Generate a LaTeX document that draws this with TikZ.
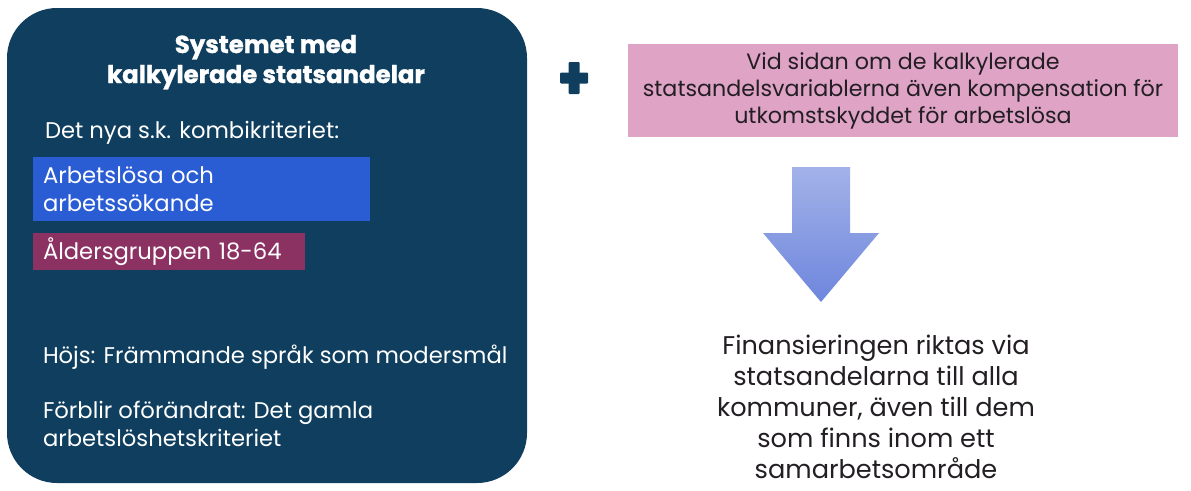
\documentclass[tikz,border=0pt]{standalone}
\usepackage{fontspec}
\setmainfont{Poppins}
\newfontfamily\titlefont{Poppins}[BoldFeatures={FakeBold=1.2}]
\usetikzlibrary{positioning}
\definecolor{mynavy}{RGB}{15,62,94}
\definecolor{myblue}{RGB}{42,92,212}
\definecolor{mymaroon}{RGB}{139,50,98}
\definecolor{mypink}{RGB}{222,163,197}
\definecolor{myarrowtop}{RGB}{163,178,232}
\definecolor{myarrowbot}{RGB}{110,134,221}
\definecolor{mytext}{RGB}{35,30,35}
\newcommand\txtsize{\fontsize{22.7}{28}\selectfont}

\begin{document}
\begin{tikzpicture}[x=1pt,y=-1pt,outer sep=0pt,
    navyb/.style={
      fill=mynavy,
      rounded corners=50pt,
      minimum width=520pt,
      minimum height=475pt},
    whitet/.style={
      text=white,
      font=\txtsize,
      inner sep=0pt,
      anchor=base west,
      align=left},
    colb/.style={
      text=white,
      font=\txtsize,
      inner xsep=10pt,
      inner ysep=0pt,
      anchor=north west,
      align=left},
    ]
    \useasboundingbox (0,0) rectangle (1191,490);
    \node[navyb] (Sys) at (267,245.5) {};
    \node[text=white,align=center,inner sep=0pt,anchor=base,font={\titlefont\bfseries\fontsize{24.4}{30}\selectfont}] (Tit) at (266,83) {Systemet med\\kalkylerade statsandelar};
    \node[whitet] (Kom) at (45,138) {Det nya s.k. kombikriteriet:};
    \node[colb,fill=myblue,minimum width=337pt,minimum height=64pt,text width=317pt] (Arb) at (33,157) {Arbetslösa och\\arbetssökande};
    \node[colb,fill=mymaroon,minimum width=272pt,minimum height=37pt,text width=252pt] (Ald) at (33,233) {Åldersgruppen 18-64};
    \node[whitet] (Hoj) at (43,363) {Höjs: Främmande språk som modersmål};
    \node[whitet] (For) at (43,446) {Förblir oförändrat: Det gamla\\arbetslöshetskriteriet};
    % plus
    \node[minimum width=28pt,minimum height=32pt,inner sep=0pt] (Plu) at (574,78) {};
    \fill[mynavy,rounded corners=1pt] ([yshift=-5.5pt]Plu.west) rectangle ([yshift=5.5pt]Plu.east);
    \fill[mynavy,rounded corners=1pt] ([xshift=-5.5pt]Plu.south) rectangle ([xshift=5.5pt]Plu.north);
    \node[fill=mypink,text=mytext,font={\fontsize{22.2}{27}\selectfont},align=center,minimum width=550pt,minimum height=93pt,inner sep=0pt] (Vid) at (903,90.5) {Vid sidan om de kalkylerade\\statsandelsvariablerna även kompensation för\\utkomstskyddet för arbetslösa};
    % block arrow
    \coordinate (Tip) at (821,302);
    \shade[top color=myarrowtop,bottom color=myarrowbot]
      (Tip) -- ++(-58,-69) -- ++(29,0) -- ++(0,-66) -- ++(58,0) -- ++(0,66) -- ++(29,0) -- cycle;
    \node[text=mytext,align=center,font={\fontsize{25.6}{31}\selectfont}] (Fin) at (876,407) {Finansieringen riktas via\\statsandelarna till alla\\kommuner, även till dem\\som finns inom ett\\samarbetsområde};
\end{tikzpicture}
\end{document}
